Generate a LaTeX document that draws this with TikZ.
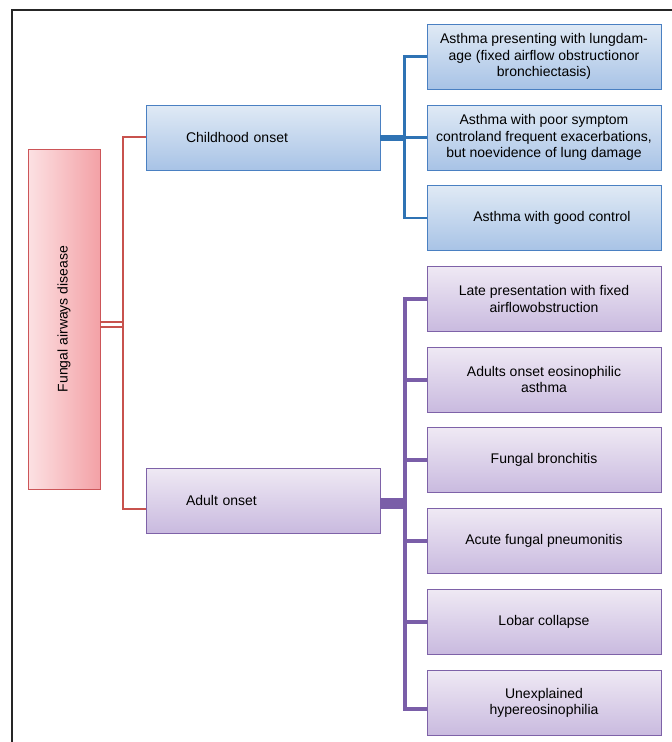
\documentclass[tikz,border=0pt]{standalone}
\usepackage{graphicx}
\usepackage{fontspec}
\setmainfont{Liberation Sans}

\definecolor{rootleft}{HTML}{FCE1E3}
\definecolor{rootright}{HTML}{F3A1A6}
\definecolor{rootdraw}{HTML}{CC5558}
\definecolor{redline}{HTML}{C8524D}
\definecolor{bluetop}{HTML}{E0EAF5}
\definecolor{bluebot}{HTML}{A8C3E6}
\definecolor{bluedraw}{HTML}{4A80C2}
\definecolor{blueline}{HTML}{2F73B4}
\definecolor{purptop}{HTML}{EFE9F4}
\definecolor{purpbot}{HTML}{C9BADF}
\definecolor{purpdraw}{HTML}{7E62A8}
\definecolor{purpline}{HTML}{7A5EA8}

\tikzset{
  rootbox/.style={draw=rootdraw,line width=0.9pt,left color=rootleft,right color=rootright,
    minimum width=72pt,minimum height=340pt,inner sep=0pt},
  childbox/.style={draw=bluedraw,line width=0.9pt,top color=bluetop,bottom color=bluebot,
    minimum width=234pt,minimum height=65pt,inner sep=0pt,align=center},
  adultbox/.style={draw=purpdraw,line width=0.9pt,top color=purptop,bottom color=purpbot,
    minimum width=234pt,minimum height=65pt,inner sep=0pt,align=center},
  onsetbox/.style={text width=154pt,inner xsep=40pt,inner ysep=0pt,align=left},
  redcon/.style={draw=redline,line width=2pt},
  bluecon/.style={draw=blueline,line width=2.5pt},
  purpcon/.style={draw=purpline,line width=4pt}
}

\begin{document}
\begin{tikzpicture}[x=1pt,y=-1pt,font=\fontsize{14}{16.5}\selectfont]

% page and frame:
\fill[white] (0,0) rectangle (672,742);
\useasboundingbox (0,0) rectangle (672,742);
\draw[line width=1.5pt,black!85] (12,742) -- (12,10) -- (672,10);

% root:
\node[rootbox] (root) at (64,319) {\rotatebox{90}{Fungal airways disease}};

% onset boxes:
\node[childbox,onsetbox] (child) at (263,137.5) {Childhood onset};
\node[adultbox,onsetbox] (adult) at (263,500.5) {Adult onset};

% childhood onset:
\node[childbox] (cA) at (544,56.5) {Asthma presenting with lungdam-\\age (fixed airflow obstructionor\\bronchiectasis)};
\node[childbox] (cB) at (544,137.5) {Asthma with poor symptom\\controland frequent exacerbations,\\but noevidence of lung damage};
\node[childbox] (cC) at (544,218) {\hspace*{16pt}Asthma with good control};

% adult onset:
\node[adultbox] (aA) at (544,299) {Late presentation with fixed\\airflowobstruction};
\node[adultbox] (aB) at (544,379.5) {Adults onset eosinophilic\\asthma};
\node[adultbox] (aC) at (544,460) {Fungal bronchitis};
\node[adultbox] (aD) at (544,541) {Acute fungal pneumonitis};
\node[adultbox] (aE) at (544,621.5) {Lobar collapse};
\node[adultbox] (aF) at (544,703) {Unexplained\\hypereosinophilia};

% connectors, root:
\draw[redcon] ([yshift=-3pt]root.east) -- ++(23,0);
\draw[redcon] ([yshift=-8pt]root.east) -- ++(23,0);
\draw[redcon] ([yshift=1pt]child.west) -- ++(-23,0) |- ([yshift=-8pt]adult.west);

% connectors, childhood:
\draw[bluecon,line width=6pt] (child.east) -- ++(25,0);
\draw[bluecon] (cA.west) -- ++(-22,0) |- (cC.west);
\draw[bluecon] (cB.west) -- ++(-22,0);

% connectors, adult:
\draw[purpcon,line width=11pt] ([yshift=-3pt]adult.east) -- ++(25,0);
\draw[purpcon] (aA.west) -- ++(-22,0) |- ([yshift=-6pt]aF.west);
\draw[purpcon] (aB.west) -- ++(-22,0);
\draw[purpcon] (aC.west) -- ++(-22,0);
\draw[purpcon] (aD.west) -- ++(-22,0);
\draw[purpcon] (aE.west) -- ++(-22,0);

\end{tikzpicture}
\end{document}
